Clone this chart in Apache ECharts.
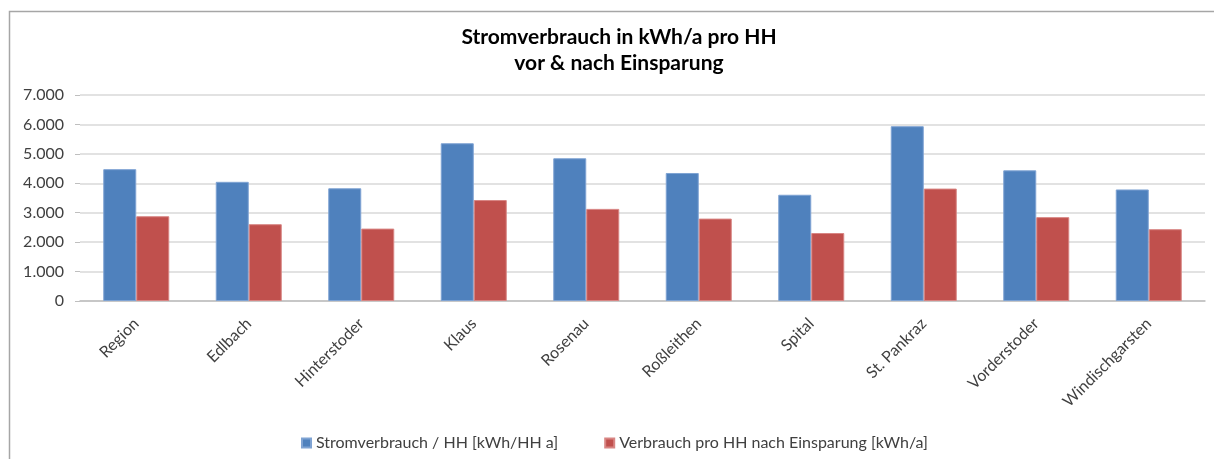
<!DOCTYPE html>
<html>
<head>
<meta charset="utf-8">
<script src="https://cdn.jsdelivr.net/npm/echarts@6/dist/echarts.min.js"></script>
<style>
  html, body { margin: 0; padding: 0; background: #fff; }
  #chart { width: 1214px; height: 459px; }
</style>
</head>
<body>
<div id="chart"></div>
<script>
const categories = ['Region', 'Edlbach', 'Hinterstoder', 'Klaus', 'Rosenau', 'Roßleithen', 'Spital', 'St. Pankraz', 'Vorderstoder', 'Windischgarsten'];
const consumption = [4480, 4050, 3830, 5360, 4850, 4350, 3610, 5940, 4440, 3790];
const afterSaving = [2880, 2610, 2460, 3430, 3130, 2800, 2310, 3820, 2850, 2440];
const seriesNames = ['Stromverbrauch / HH [kWh/HH a]', 'Verbrauch pro HH nach Einsparung [kWh/a]'];

const font = 'Lato, "Open Sans", sans-serif';
const textColor = '#404040';

// 7000 -> "7.000"
function dots(v) {
  return String(v).replace(/\B(?=(\d{3})+(?!\d))/g, '.');
}

const chart = echarts.init(document.getElementById('chart'));
chart.setOption({
  animation: false,
  backgroundColor: '#fff',
  textStyle: { fontFamily: font },
  graphic: [{
    type: 'rect',
    shape: { x: 9.5, y: 11.5, width: 1400, height: 600 },
    style: { fill: 'none', stroke: '#a6a6a6', lineWidth: 1.5 },
    silent: true
  }],
  title: {
    text: 'Stromverbrauch in kWh/a pro HH\nvor & nach Einsparung',
    left: 614,
    top: 19,
    textAlign: 'center',
    textStyle: { fontFamily: font, fontSize: 21, fontWeight: 'bold', color: '#000', lineHeight: 26 }
  },
  legend: {
    left: 296,
    top: 430,
    icon: 'rect',
    itemWidth: 9,
    itemHeight: 9,
    itemGap: 46,
    textStyle: { fontFamily: font, fontSize: 16, color: textColor },
    data: seriesNames
  },
  grid: { left: 80, right: 9, top: 95, bottom: 158 },
  xAxis: {
    type: 'category',
    data: categories,
    axisLine: { lineStyle: { color: '#bfbfbf', width: 1.5 } },
    axisTick: { length: 5, lineStyle: { color: '#bfbfbf' } },
    axisLabel: { rotate: 45, margin: 20, fontSize: 16, color: textColor, fontFamily: font }
  },
  yAxis: {
    type: 'value',
    min: 0,
    max: 7000,
    interval: 1000,
    axisLine: { show: false },
    axisTick: { show: true, length: 5, lineStyle: { color: '#bfbfbf' } },
    splitLine: { lineStyle: { color: '#d9d9d9', width: 1.5 } },
    axisLabel: { fontSize: 16, color: textColor, fontFamily: font, margin: 16, formatter: dots }
  },
  series: [
    {
      name: seriesNames[0],
      type: 'bar',
      data: consumption,
      barWidth: 33,
      barGap: '0%',
      itemStyle: { color: '#4f81bd', borderColor: '#7fa3d3', borderWidth: 1 }
    },
    {
      name: seriesNames[1],
      type: 'bar',
      data: afterSaving,
      barWidth: 33,
      barGap: '0%',
      itemStyle: { color: '#c0504d', borderColor: '#d88583', borderWidth: 1 }
    }
  ]
});
</script>
</body>
</html>
